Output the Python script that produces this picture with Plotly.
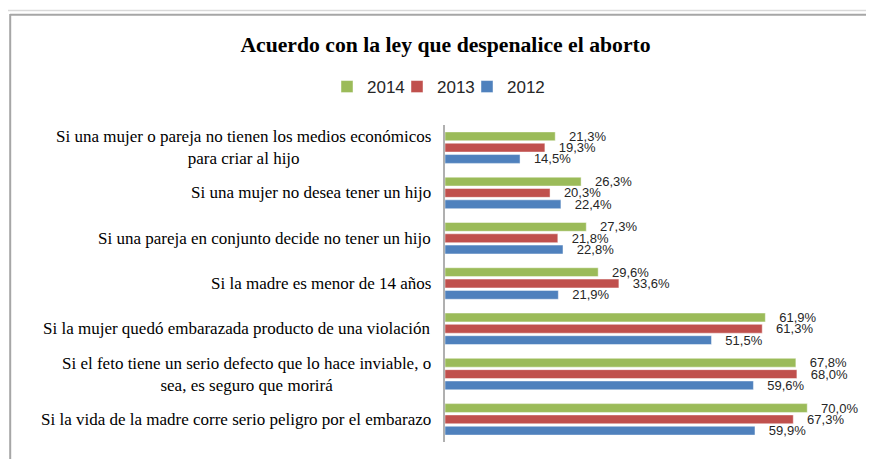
import plotly.graph_objects as go

# ---- data ----
categories = [
    "Si una mujer o pareja no tienen los medios económicos<br>para criar al hijo",
    "Si una mujer no desea tener un hijo",
    "Si una pareja en conjunto decide no tener un hijo",
    "Si la madre es menor de 14 años",
    "Si la mujer quedó embarazada producto de una violación",
    "Si el feto tiene un serio defecto que lo hace inviable, o<br>sea, es seguro que morirá",
    "Si la vida de la madre corre serio peligro por el embarazo",
]
years = ["2014", "2013", "2012"]
v2014 = [21.3, 26.3, 27.3, 29.6, 61.9, 67.8, 70.0]
v2013 = [19.3, 20.3, 21.8, 33.6, 61.3, 68.0, 67.3]
v2012 = [14.5, 22.4, 22.8, 21.9, 51.5, 59.6, 59.9]
series = [v2014, v2013, v2012]
colors = ["#9BBB59", "#C0504D", "#4F81BD"]
title_text = "Acuerdo con la ley que despenalice el aborto"

# ---- layout geometry (page pixels; the page body adds an 8px offset) ----
OFF = 8
PAGE_W, PAGE_H = 874, 459
W, H = PAGE_W - OFF, PAGE_H - OFF
PL, PR, PT, PB = 445, 859, 125, 442  # plot area in page pixels
ML, MR, MT, MB = PL - OFF, PAGE_W - PR, PT - OFF, PAGE_H - PB
PW, PH = PR - PL, PB - PT


def px_x(px):
    return (px - PL) / PW


def px_y(py):
    return (PB - py) / PH


def fmt(v):
    return "\u00a0\u00a0\u00a0" + f"{v:.1f}".replace(".", ",") + "%"


legend_ids = ["legend", "legend2", "legend3"]
legend_left = [327, 397, 467]

fig = go.Figure()
for name, vals, col, lid in zip(years, series, colors, legend_ids):
    fig.add_trace(go.Bar(
        name=name, y=categories, x=vals, orientation="h", legend=lid,
        marker=dict(color=col, line=dict(color="rgba(255,255,255,0.45)", width=1)),
        text=[fmt(v) for v in vals], textposition="outside",
        textfont=dict(family="Liberation Sans, Arial, sans-serif", size=13, color="#262626"),
        constraintext="none", cliponaxis=False, hoverinfo="skip",
    ))

annotations = []
for c in categories:
    annotations.append(dict(
        x=px_x(433), xref="paper", xanchor="right",
        y=c, yref="y", yanchor="middle",
        text=c, showarrow=False, align="center",
        font=dict(family="Liberation Serif, Times New Roman, serif", size=17, color="#000000"),
    ))

shapes = [
    dict(type="line", xref="paper", yref="paper", x0=px_x(7), x1=px_x(880), y0=px_y(10.5), y1=px_y(10.5),
         line=dict(color="#D9D9D9", width=1.5)),
    dict(type="line", xref="paper", yref="paper", x0=px_x(10), x1=px_x(880), y0=px_y(14.8), y1=px_y(14.8),
         line=dict(color="#A6A6A6", width=2)),
    dict(type="line", xref="paper", yref="paper", x0=px_x(10.2), x1=px_x(10.2), y0=px_y(14), y1=px_y(470),
         line=dict(color="#A6A6A6", width=2)),
]

legend_font = dict(family="Liberation Sans, Arial, sans-serif", size=17, color="#262626")
legend_layout = {}
for lid, lx in zip(legend_ids, legend_left):
    legend_layout[lid] = dict(orientation="h", x=px_x(lx), xanchor="left", y=px_y(87), yanchor="middle",
                              font=legend_font, bgcolor="rgba(0,0,0,0)")

fig.update_layout(
    width=W, height=H,
    margin=dict(l=ML, r=MR, t=MT, b=MB, pad=0),
    paper_bgcolor="white", plot_bgcolor="white",
    barmode="group", bargap=0.25, bargroupgap=0.22,
    title=dict(text="<b>" + title_text + "</b>", x=px_x(445.5), xref="paper", xanchor="center",
               y=1 - (44 - OFF) / H, yref="container", yanchor="middle",
               font=dict(family="Liberation Serif, Times New Roman, serif", size=21.7, color="#000000")),
    xaxis=dict(range=[0, 80], visible=False, showgrid=False, zeroline=False),
    yaxis=dict(categoryorder="array", categoryarray=categories, autorange="reversed",
               showticklabels=False, showgrid=False, zeroline=False, ticks="",
               showline=True, linecolor="#B0B0B0", linewidth=1.5),
    annotations=annotations, shapes=shapes,
    showlegend=True,
    **legend_layout,
)

fig.write_html("out.html")
